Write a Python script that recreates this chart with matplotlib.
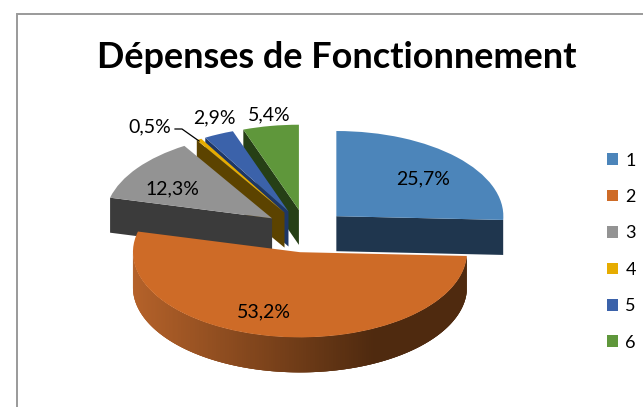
import numpy as np
import matplotlib
matplotlib.use("Agg")
import matplotlib.pyplot as plt
from matplotlib.patches import Polygon
from matplotlib.transforms import Affine2D
from matplotlib.colors import to_rgb

title = "Dépenses de Fonctionnement"
categories = ["1", "2", "3", "4", "5", "6"]
percent_values = [25.7, 53.2, 12.3, 0.5, 2.9, 5.4]
percent_labels = ["25,7%", "53,2%", "12,3%", "0,5%", "2,9%", "5,4%"]

top_colors = ["#4C85BA", "#CE6B27", "#939393", "#E6AC00", "#3B62AA", "#5F973B"]
side_colors = ["#1F364E", "#B5622A", "#3B3B3B", "#5C4300", "#1E3766", "#263F16"]
gradient_end = "#4F2A0F"

W, H = 643, 407
plt.rcParams["font.family"] = ["Lato", "DejaVu Sans"]
fig = plt.figure(figsize=(W / 100, H / 100), dpi=100)
ax = fig.add_axes([0, 0, 1, 1])

RX, SQUASH, DEPTH, EXPLODE = 167, 0.51, 35, 42
CX, CY = 306, H - 231


def up(y):
    return H - y


wedges, _ = ax.pie(percent_values, colors=top_colors, explode=[EXPLODE] * 6,
                   radius=RX, center=(CX, CY), startangle=90, counterclock=False,
                   frame=True)
ax.set_xlim(0, W)
ax.set_ylim(0, H)
ax.axis("off")

squash = Affine2D().translate(0, -CY).scale(1, SQUASH).translate(0, CY) + ax.transData


def pt(center, r, deg):
    a = np.radians(deg)
    return np.array([center[0] + r * np.cos(a),
                     CY + (center[1] - CY) * SQUASH + r * SQUASH * np.sin(a)])


order = [5, 4, 3, 2, 0, 1]
z = 2
for i in order:
    w = wedges[i]
    c = w.center
    apex = pt(c, 0, 0)
    # radial cut faces turned toward the viewer
    for a, s in ((w.theta1, 1), (w.theta2, -1)):
        ny = -s * np.cos(np.radians(a))
        if ny < -1e-6:
            p = pt(c, RX, a)
            ax.add_patch(Polygon([apex, p, p - [0, DEPTH], apex - [0, DEPTH]],
                                 closed=True, fc=side_colors[i], ec="none",
                                 zorder=z))
    # outer rim where it lies on the near half; bands overlap to hide seams
    angs = np.linspace(w.theta1, w.theta2, 241)
    angs = angs[np.sin(np.radians(angs)) < 0]
    if i == 1 and len(angs) > 1:
        c0, c1 = np.array(to_rgb(side_colors[i])), np.array(to_rgb(gradient_end))
        for k in range(len(angs) - 1):
            a0, a1 = angs[k], angs[min(k + 3, len(angs) - 1)]
            arc = [pt(c, RX, q) for q in np.linspace(a0, a1, 4)]
            t = (0.5 * (arc[0][0] + arc[1][0]) - (c[0] - RX)) / (2 * RX)
            col = c0 + (c1 - c0) * min(1.0, t / 0.72)
            lower = [q - [0, DEPTH] for q in arc[::-1]]
            ax.add_patch(Polygon(arc + lower, closed=True, fc=col, ec="none", zorder=z))
    w.set_transform(squash)
    w.set_zorder(z + 1)
    z += 2

# chart frame
ax.plot([W, 16.5, 16.5], [up(14), up(14), up(H)], color="#9A9A9A", lw=1.4, zorder=1,
        clip_on=False, solid_joinstyle="miter")

fig.text(337 / W, up(57.5) / H, title, ha="center", va="center",
         fontsize=25.9, fontweight="bold", color="black")

label_xy = [(423, 179), (264, 312), (172, 189), (150, 127), (214, 118), (269, 115)]
for (x, y), s in zip(label_xy, percent_labels):
    ax.text(x, up(y), s, ha="center", va="center", fontsize=14, color="black",
            zorder=30)
ax.plot([175, 182, 199], [up(129), up(129), up(141)], color="black", lw=0.9, zorder=30)

leg = ax.legend(wedges, categories, loc="upper left",
                bbox_to_anchor=(607, up(152.5)), bbox_transform=ax.transData,
                frameon=False, fontsize=13, borderpad=0, borderaxespad=0,
                handlelength=0.62, handleheight=0.62, handletextpad=0.4,
                labelspacing=1.13, labelcolor="black")
leg.set_zorder(30)

fig.savefig("out.png", dpi=100)
